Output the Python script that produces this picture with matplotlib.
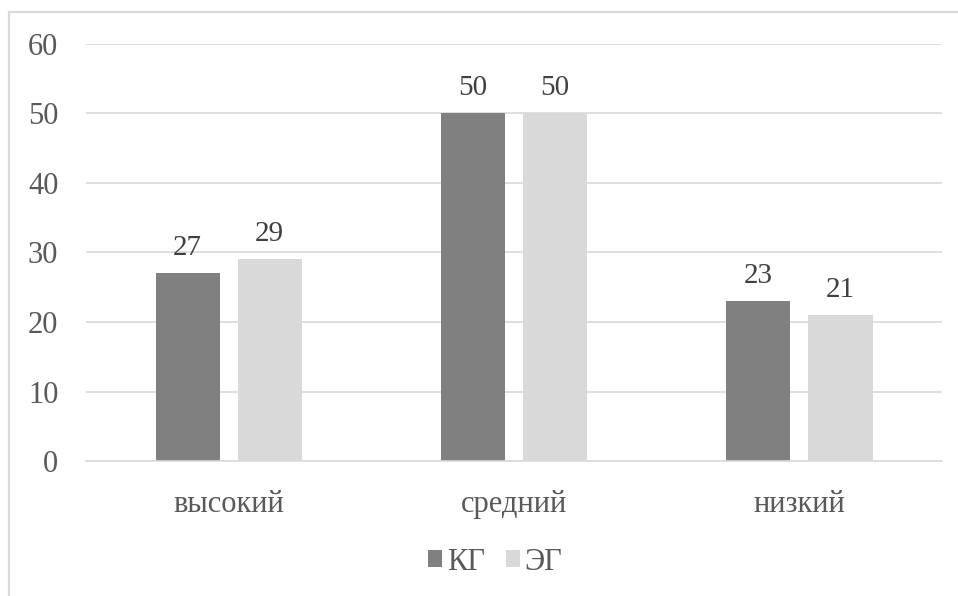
import numpy as np
import matplotlib.pyplot as plt
from matplotlib.patches import Rectangle

plt.rcParams['font.family'] = ['Liberation Serif', 'DejaVu Serif']

categories = ['высокий', 'средний', 'низкий']
series_names = ['КГ', 'ЭГ']
kg_values = [27, 50, 23]
eg_values = [29, 50, 21]
colors = ['#808080', '#d9d9d9']
text_color = '#595959'

fig = plt.figure(figsize=(9.58, 5.96), dpi=100)
ax = fig.add_axes([0.0898, 0.2265, 0.8935, 0.6997])

# outer chart frame, running off the right and bottom edges
fig.patches.append(Rectangle((9 / 958, -0.05), 1.1, 1 - 12 / 596 + 0.05,
                             transform=fig.transFigure, fill=False,
                             edgecolor='#d9d9d9', linewidth=1.6))

x = np.arange(len(categories))
width = 0.225
offset = (width + 0.063) / 2

bars_kg = ax.bar(x - offset, kg_values, width, color=colors[0], label=series_names[0])
bars_eg = ax.bar(x + offset, eg_values, width, color=colors[1], label=series_names[1])

for bars in (bars_kg, bars_eg):
    ax.bar_label(bars, padding=9, fontsize=21, color='#404040')

ax.set_xlim(-0.5, 2.5)
ax.set_ylim(0, 60)
ax.set_yticks(range(0, 61, 10))
ax.set_xticks(x)
ax.set_xticklabels(categories)
ax.tick_params(axis='both', length=0, labelsize=22, labelcolor=text_color)
ax.tick_params(axis='y', pad=20)
ax.tick_params(axis='x', pad=21)
ax.grid(axis='y', color='#d9d9d9', linewidth=1.2)
ax.set_axisbelow(True)
for side in ['top', 'right', 'left']:
    ax.spines[side].set_visible(False)
ax.spines['bottom'].set_color('#d9d9d9')
ax.spines['bottom'].set_linewidth(1.2)

fig.legend(loc='center', bbox_to_anchor=(0.517, 1 - 562 / 596), ncol=2, frameon=False,
           fontsize=22, labelcolor=text_color, handlelength=0.45, handleheight=0.45,
           handletextpad=0.15, columnspacing=0.7)

fig.savefig('out.png', dpi=100)
